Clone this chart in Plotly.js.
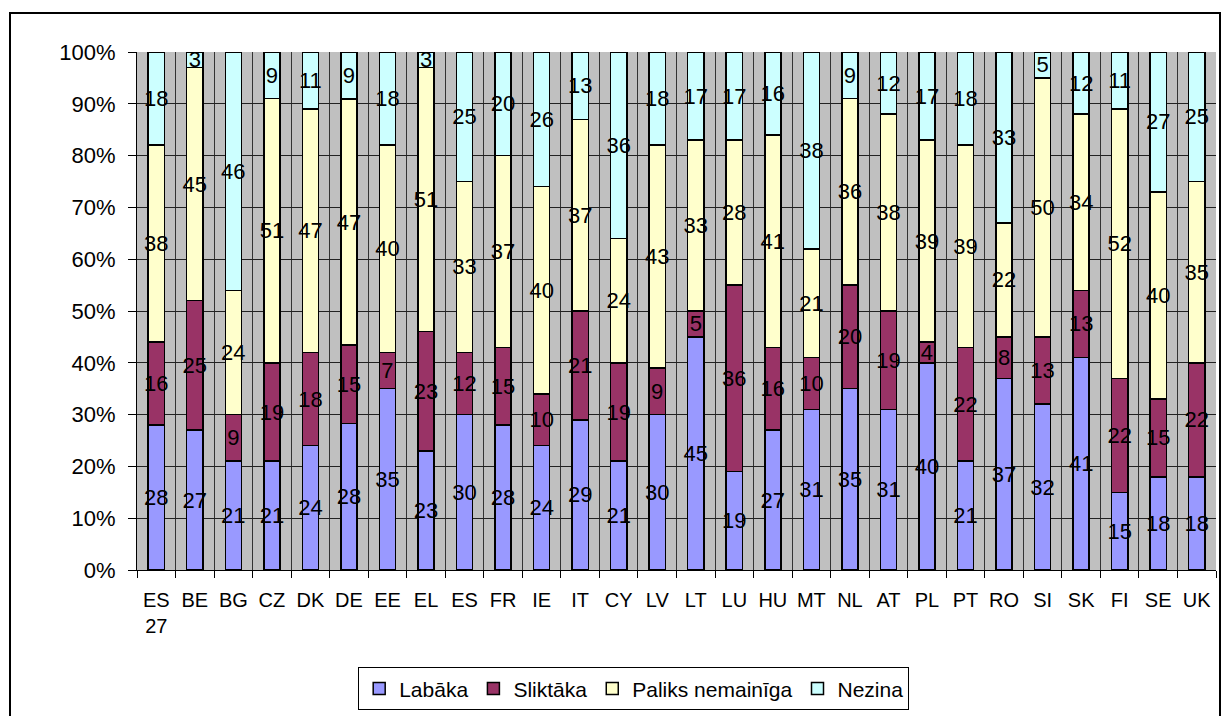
<!DOCTYPE html>
<html>
<head>
<meta charset="utf-8">
<script src="https://cdn.plot.ly/plotly-3.0.1.min.js"></script>
<style>
  html, body { margin: 0; padding: 0; background: #fff; }
  #wrap { position: relative; width: 1222px; height: 716px; overflow: hidden; }
  #chart { position: absolute; left: 0; top: 0; width: 1222px; height: 716px; }
  #frame { position: absolute; left: 9px; top: 12px; width: 1208px; height: 720px; border: 2px solid #000; pointer-events: none; }
</style>
</head>
<body>
<div id="wrap">
  <div id="chart"></div>
  <div id="frame"></div>
</div>
<script>
const categories = ["ES<br>27","BE","BG","CZ","DK","DE","EE","EL","ES","FR","IE","IT","CY","LV","LT","LU","HU","MT","NL","AT","PL","PT","RO","SI","SK","FI","SE","UK"];
const seriesNames = ["Labāka","Sliktāka","Paliks nemainīga","Nezina"];
const labaka   = [28,27,21,21,24,28,35,23,30,28,24,29,21,30,45,19,27,31,35,31,40,21,37,32,41,15,18,18];
const sliktaka = [16,25,9,19,18,15,7,23,12,15,10,21,19,9,5,36,16,10,20,19,4,22,8,13,13,22,15,22];
const paliks   = [38,45,24,51,47,47,40,51,33,37,40,37,24,43,33,28,41,21,36,38,39,39,22,50,34,52,40,35];
const nezina   = [18,3,46,9,11,9,18,3,25,20,26,13,36,18,17,17,16,38,9,12,17,18,33,5,12,11,27,25];
const colors = ["#9999ff","#993366","#ffffcc","#ccffff"];

const seriesValues = [labaka, sliktaka, paliks, nezina];
const traces = seriesValues.map((vals, i) => ({
  type: 'bar',
  name: seriesNames[i],
  x: categories,
  y: vals,
  text: vals.map(String),
  textposition: 'inside',
  insidetextanchor: 'middle',
  textangle: 0,
  constraintext: 'none',
  textfont: { family: 'Liberation Sans, Arial, sans-serif', size: 22, color: '#000' },
  marker: { color: colors[i], line: { color: '#000', width: 1.5 } },
  hoverinfo: 'skip'
}));

const layout = {
  width: 1222,
  height: 716,
  barmode: 'stack',
  barnorm: 'percent',
  bargap: 0.58,
  paper_bgcolor: 'rgba(0,0,0,0)',
  plot_bgcolor: '#c0c0c0',
  margin: { l: 137, r: 6, t: 52, b: 143 },
  font: { family: 'Liberation Sans, Arial, sans-serif', size: 21, color: '#000' },
  uniformtext: { mode: 'show', minsize: 22 },
  showlegend: true,
  legend: {
    orientation: 'h',
    x: 0.205, xanchor: 'left',
    y: -0.188, yanchor: 'top',
    traceorder: 'normal',
    bgcolor: '#fff',
    bordercolor: '#000',
    borderwidth: 1,
    font: { size: 21, color: '#000' },
    itemwidth: 30,
    tracegroupgap: 0
  },
  xaxis: {
    type: 'category',
    tickson: 'boundaries',
    ticks: 'outside',
    ticklen: 7,
    tickcolor: '#000',
    showgrid: true,
    gridcolor: '#333',
    gridwidth: 1,
    showline: true,
    linecolor: '#000',
    linewidth: 1,
    tickangle: 0,
    ticklabelstandoff: 12,
    tickfont: { size: 20 }
  },
  yaxis: {
    range: [0, 100],
    dtick: 10,
    ticksuffix: '%',
    ticks: 'outside',
    ticklen: 8,
    tickcolor: '#000',
    showgrid: true,
    gridcolor: '#222',
    gridwidth: 1,
    showline: true,
    linecolor: '#000',
    linewidth: 1,
    zeroline: false,
    ticklabelstandoff: 8,
    tickfont: { size: 22 }
  }
};

Plotly.newPlot('chart', traces, layout, { displayModeBar: false, staticPlot: true });
</script>
</body>
</html>
